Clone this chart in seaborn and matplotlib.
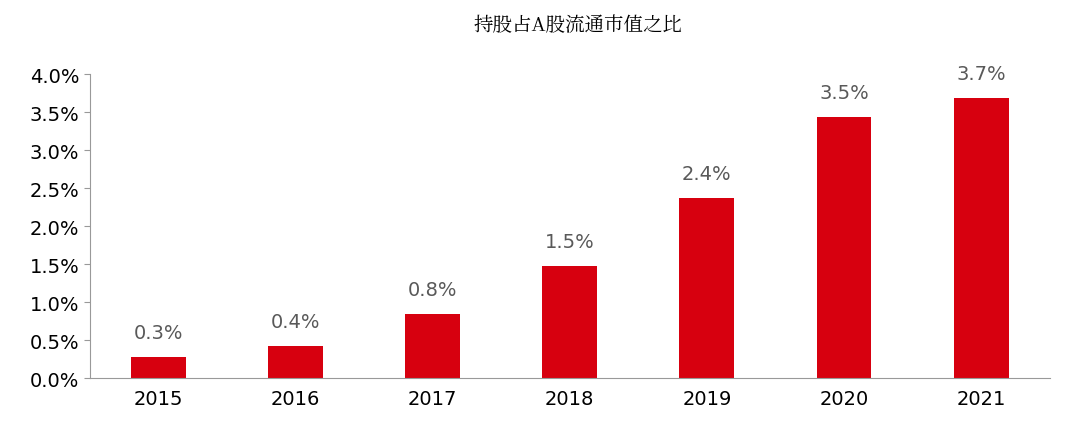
import matplotlib
matplotlib.use("Agg")
import matplotlib.pyplot as plt
from matplotlib import font_manager as fm
import seaborn as sns
import pandas as pd

years = ["2015", "2016", "2017", "2018", "2019", "2020", "2021"]
values = [0.28, 0.42, 0.84, 1.47, 2.37, 3.44, 3.69]
labels = ["0.3%", "0.4%", "0.8%", "1.5%", "2.4%", "3.5%", "3.7%"]
yticks = [0.0, 0.5, 1.0, 1.5, 2.0, 2.5, 3.0, 3.5, 4.0]
title = "持股占A股流通市值之比"

cjk = None
for f in fm.findSystemFonts():
    if "NotoSansCJK" in f.replace(" ", "") or "CJK" in f:
        cjk = f
        if "Regular" in f:
            break
title_fp = fm.FontProperties(fname=cjk, size=14) if cjk else fm.FontProperties(family="Noto Sans CJK SC", size=14)

df = pd.DataFrame({"year": years, "value": values})

fig = plt.figure(figsize=(10.8, 4.27), dpi=100)
ax = fig.add_axes([0.083, 0.112, 0.889, 0.712])
sns.barplot(data=df, x="year", y="value", color="#d7000f", width=0.4, saturation=1, ax=ax)
for i, (v, l) in enumerate(zip(values, labels)):
    ax.text(i, v + 0.2, l, ha="center", va="bottom", fontsize=14, color="#595959")
ax.set_ylim(0, 4.0)
ax.set_yticks(yticks)
ax.set_yticklabels([f"{t:.1f}%" for t in yticks], fontsize=14)
ax.tick_params(axis="x", labelsize=14, length=0, pad=8)
ax.tick_params(axis="y", length=4, color="#999999")
ax.set_xlabel("")
ax.set_ylabel("")
ax.set_xlim(-0.5, 6.5)
for s in ["top", "right"]:
    ax.spines[s].set_visible(False)
for s in ["left", "bottom"]:
    ax.spines[s].set_color("#999999")
fig.text(0.535, 0.94, title, ha="center", va="center", fontproperties=title_fp)
fig.savefig("out.png", dpi=100)
